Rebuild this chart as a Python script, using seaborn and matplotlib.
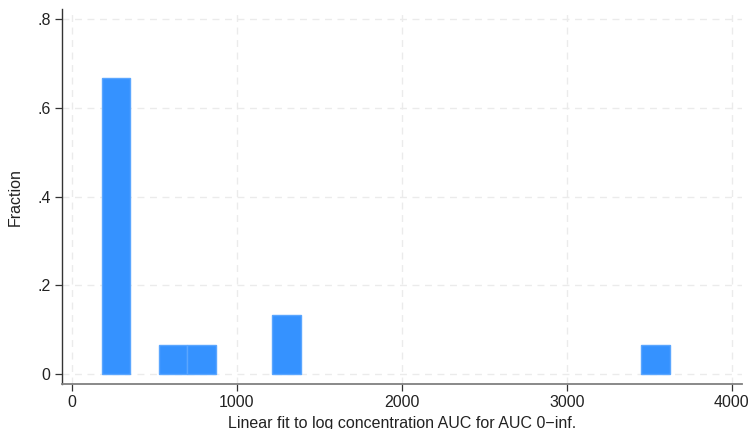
import numpy as np
import pandas as pd
import matplotlib
matplotlib.use("Agg")
import matplotlib.pyplot as plt
import seaborn as sns

# Histogram of AUC 0-inf (linear fit to log concentration), 20 bins
bin_lo = 184.0
bin_hi = 3624.0
n_bins = 20
fraction = [0.6667, 0.0, 0.0667, 0.0667, 0.0, 0.0, 0.1333, 0.0, 0.0, 0.0,
            0.0, 0.0, 0.0, 0.0, 0.0, 0.0, 0.0, 0.0, 0.0, 0.0667]
x_ticks = [0, 1000, 2000, 3000, 4000]
y_ticks = [0, 0.2, 0.4, 0.6, 0.8]
y_tick_labels = ["0", ".2", ".4", ".6", ".8"]
x_label = "Linear fit to log concentration AUC for AUC 0\u2212inf."
y_label = "Fraction"

edges = np.linspace(bin_lo, bin_hi, n_bins + 1)
centers = (edges[:-1] + edges[1:]) / 2
df = pd.DataFrame({"auc": centers, "fraction": fraction})
df = df[df["fraction"] > 0]

sns.set_theme(style="white")
plt.rcParams["font.family"] = ["Liberation Sans", "DejaVu Sans"]

fig = plt.figure(figsize=(7.51, 4.29), dpi=100)
ax = fig.add_axes([61.7 / 751, 1 - 384.3 / 429, (741.7 - 61.7) / 751, (384.3 - 9) / 429])

sns.histplot(data=df, x="auc", weights="fraction", bins=n_bins,
             binrange=(bin_lo, bin_hi), ax=ax,
             color="#3592ff", edgecolor="#5aa6ff", linewidth=1.0, alpha=1.0,
             zorder=3)

# empty bins should leave no outline on the baseline
for p in ax.patches:
    if p.get_height() <= 0:
        p.set_visible(False)

ax.set_xlim(-60.6, 4060)
ax.set_ylim(-0.0225, 0.8225)
ax.set_xticks(x_ticks)
ax.set_xticklabels([str(t) for t in x_ticks])
ax.set_yticks(y_ticks)
ax.set_yticklabels(y_tick_labels)

ax.grid(True, color="#ebebeb", linestyle=(0, (5, 4)), linewidth=1.0, zorder=0)
ax.set_axisbelow(True)

for side in ("top", "right"):
    ax.spines[side].set_visible(False)
ax.spines["left"].set_color("#333333")
ax.spines["left"].set_linewidth(1.0)
ax.spines["bottom"].set_color("#808080")
ax.spines["bottom"].set_linewidth(1.3)

ax.tick_params(axis="both", which="major", direction="out", length=5,
               width=0.9, color="#333333", labelsize=11.5, labelcolor="#222222",
               pad=3, bottom=True, left=True)

ax.set_xlabel(x_label, fontsize=11.5, color="#222222", labelpad=4)
ax.set_ylabel(y_label, fontsize=11.5, color="#222222", labelpad=10)

fig.savefig("out.png", dpi=100, facecolor="white")
